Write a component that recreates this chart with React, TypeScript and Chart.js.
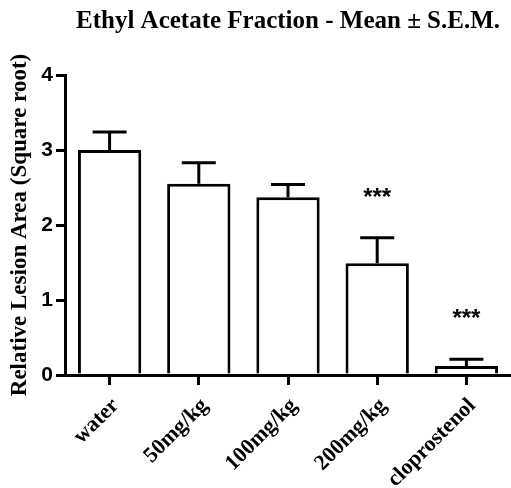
import React, { useEffect, useRef } from "react";
import { Chart, registerables } from "chart.js";

Chart.register(...registerables);

const categories = ["water", "50mg/kg", "100mg/kg", "200mg/kg", "cloprostenol"];
const means = [3.0, 2.55, 2.37, 1.49, 0.12];
const sems = [0.24, 0.28, 0.17, 0.34, 0.09];
const stars = ["", "", "", "***", "***"];
const yTicks = [0, 1, 2, 3, 4];

const titleText = "Ethyl Acetate Fraction - Mean \u00B1 S.E.M.";
const yTitle = "Relative Lesion Area (Square root)";

const serif = "'Liberation Serif', 'Times New Roman', serif";
const sans = "'Liberation Sans', Arial, sans-serif";

const errorPlugin = {
  id: "errorBars",
  afterDatasetsDraw(chart: any) {
    const ctx = chart.ctx;
    const x = chart.scales.x;
    const y = chart.scales.y;
    ctx.save();
    ctx.strokeStyle = "#000";
    ctx.lineWidth = 3;
    ctx.lineCap = "butt";
    means.forEach((m, i) => {
      const cx = x.getPixelForValue(i);
      const top = y.getPixelForValue(m);
      const cap = y.getPixelForValue(m + sems[i]);
      ctx.beginPath();
      ctx.moveTo(cx, top);
      ctx.lineTo(cx, cap);
      ctx.moveTo(cx - 17, cap);
      ctx.lineTo(cx + 17, cap);
      ctx.stroke();
      if (stars[i]) {
        ctx.fillStyle = "#000";
        ctx.font = "bold 24px " + sans;
        ctx.textAlign = "center";
        ctx.textBaseline = "alphabetic";
        ctx.fillText(stars[i], cx, cap - 33);
      }
    });
    ctx.restore();
  },
};

export default function App() {
  const ref = useRef<HTMLCanvasElement>(null);
  useEffect(() => {
    document.body.style.margin = "0";
    const chart = new Chart(ref.current as HTMLCanvasElement, {
      type: "bar",
      data: {
        labels: categories,
        datasets: [
          {
            data: means,
            backgroundColor: "#fff",
            borderColor: "#000",
            borderWidth: 3,
            borderSkipped: "start",
            barPercentage: 0.71,
            categoryPercentage: 1,
          },
        ],
      },
      options: {
        animation: false,
        responsive: false,
        maintainAspectRatio: false,
        layout: { padding: { left: 0, right: -4, top: 0, bottom: 0 } },
        plugins: {
          legend: { display: false },
          tooltip: { enabled: false },
          title: {
            display: true,
            text: titleText,
            fullSize: false,
            color: "#000",
            font: { family: serif, size: 25, weight: "bold" },
            padding: { top: 7, bottom: 38 },
          },
        },
        scales: {
          x: {
            offset: true,
            grid: {
              display: true,
              offset: false,
              drawOnChartArea: false,
              drawTicks: true,
              tickLength: 10,
              lineWidth: 3,
              color: "#000",
            },
            border: { display: true, width: 3, color: "#000" },
            ticks: {
              color: "#000",
              minRotation: 45,
              maxRotation: 45,
              autoSkip: false,
              padding: 8,
              labelOffset: 6,
              font: { family: serif, size: 22, weight: "bold" },
            },
            afterFit: (s: any) => {
              s.height = 113;
            },
          },
          y: {
            min: 0,
            max: 4,
            afterBuildTicks: (s: any) => {
              s.ticks = yTicks.map((v) => ({ value: v }));
            },
            grid: {
              display: true,
              drawOnChartArea: false,
              drawTicks: true,
              tickLength: 9,
              lineWidth: 3,
              color: "#000",
            },
            border: { display: true, width: 3, color: "#000" },
            ticks: {
              color: "#000",
              padding: 3,
              font: { family: sans, size: 21, weight: "bold" },
            },
            title: {
              display: true,
              text: yTitle,
              color: "#000",
              padding: 6,
              font: { family: serif, size: 23, weight: "bold" },
            },
            afterFit: (s: any) => {
              s.width = 65;
            },
          },
        },
      },
      plugins: [errorPlugin],
    });
    return () => chart.destroy();
  }, []);
  return (
    <div style={{ width: 511, height: 488 }}>
      <canvas ref={ref} width={511} height={488} />
    </div>
  );
}
